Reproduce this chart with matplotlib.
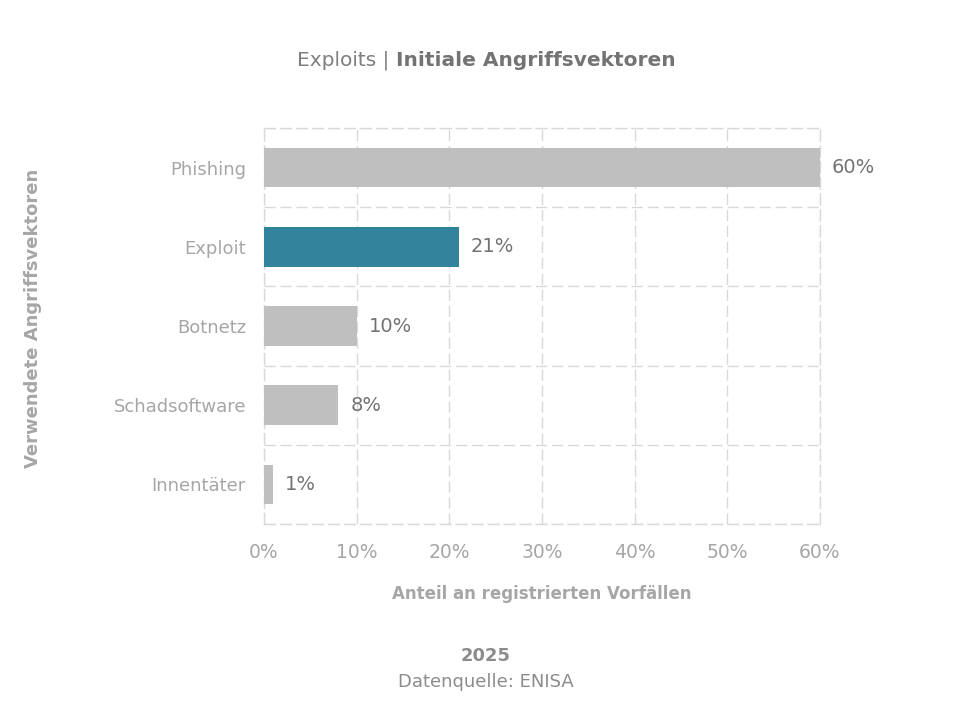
import numpy as np
import matplotlib
matplotlib.use("Agg")
import matplotlib.pyplot as plt
from matplotlib.ticker import FixedLocator, PercentFormatter

categories = ["Phishing", "Exploit", "Botnetz", "Schadsoftware", "Innentäter"]
values = [60, 21, 10, 8, 1]
highlight = "Exploit"

title_normal = "Exploits | "
title_bold = "Initiale Angriffsvektoren"
xlabel = "Anteil an registrierten Vorfällen"
ylabel = "Verwendete Angriffsvektoren"
year = "2025"
source = "Datenquelle: ENISA"

plt.rcParams['font.family'] = ['DejaVu Sans']

GRID = "#d9d9d9"
TICK = "#a6a6a6"
LABEL = "#7f7f7f"
DASH = (0, (8, 3.5))

fig = plt.figure(figsize=(9.72, 7.12), dpi=100)
ax = fig.add_axes([0.2716, 0.2640, 0.572, 0.5562])

y = np.arange(len(categories))
colors = ["#31849b" if c == highlight else "#bfbfbf" for c in categories]
ax.barh(y, values, height=0.5, color=colors, zorder=3)

for yi, v in zip(y, values):
    ax.text(v + 1.3, yi, f"{v}%", va="center", ha="left",
            fontsize=14, color="#737373", zorder=4)

ax.set_xlim(0, 60)
ax.set_ylim(len(categories) - 0.5, -0.5)
ax.set_xticks(np.arange(0, 61, 10))
ax.xaxis.set_major_formatter(PercentFormatter(decimals=0))
ax.set_yticks(y)
ax.set_yticklabels(categories)
ax.yaxis.set_minor_locator(FixedLocator(np.arange(-0.5, len(categories), 1)))

ax.tick_params(axis="both", which="both", length=0, labelsize=13,
               labelcolor=TICK)
ax.tick_params(axis="x", labelsize=13.5, pad=14)
ax.tick_params(axis="y", pad=13)

ax.grid(axis="x", which="major", color=GRID, linestyle=DASH,
        linewidth=1.0, zorder=1)
ax.grid(axis="y", which="minor", color=GRID, linestyle=DASH,
        linewidth=1.0, zorder=1)
ax.grid(axis="y", which="major", visible=False)

for s in ax.spines.values():
    s.set_color(GRID)
    s.set_linestyle(DASH)
    s.set_linewidth(1.0)
    s.set_zorder(2)

ax.set_xlabel(xlabel, fontsize=12, fontweight="bold", color=TICK, labelpad=16)
fig.text(0.034, 0.553, ylabel, rotation=90, ha="center", va="center",
         fontsize=13, fontweight="bold", color=TICK)

# title: normal part followed by bold part, centred as a whole
t1 = fig.text(0, 0.915, title_normal, fontsize=14.5, color=LABEL, va="center")
t2 = fig.text(0, 0.915, title_bold, fontsize=14.5, color="#737373",
              fontweight="bold", va="center")
fig.canvas.draw()
r = fig.canvas.get_renderer()
w1 = t1.get_window_extent(r).width / fig.bbox.width
w2 = t2.get_window_extent(r).width / fig.bbox.width
x0 = 0.5 - (w1 + w2) / 2
t1.set_x(x0)
t2.set_x(x0 + w1)

fig.text(0.5, 0.079, year, ha="center", va="center", fontsize=13,
         fontweight="bold", color="#8c8c8c")
fig.text(0.5, 0.042, source, ha="center", va="center", fontsize=13,
         color="#8c8c8c")

fig.savefig("out.png", dpi=100, facecolor="white")
